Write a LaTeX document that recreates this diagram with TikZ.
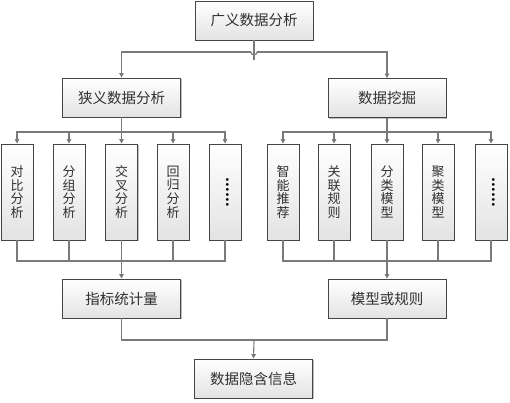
\documentclass[tikz,border=0pt]{standalone}
\usepackage{fontspec}
\newfontfamily\cjk{Noto Sans CJK SC}
\usetikzlibrary{arrows.meta,shadows}
\definecolor{linec}{HTML}{7A7A7A}
\definecolor{boxline}{HTML}{454545}
\definecolor{txt}{HTML}{303030}
\tikzset{
  box/.style={draw=boxline, line width=0.9bp, top color=white, bottom color=black!11,
    drop shadow={shadow xshift=1.2bp, shadow yshift=-1.2bp, opacity=0.25, fill=black},
    text=txt, inner sep=0pt, font=\cjk\fontsize{14.5bp}{15bp}\selectfont},
  wide/.style={box, minimum width=118bp, minimum height=39bp},
  tall/.style={box, minimum width=32bp, minimum height=96bp, align=center,
    font=\cjk\fontsize{13bp}{13.6bp}\selectfont},
  dots/.style={text=black, rotate=-90, font=\cjk\bfseries\fontsize{13bp}{13bp}\selectfont, inner sep=0pt},
  conn/.style={draw=linec, line width=1.1bp},
  arr/.style={conn, -{Triangle[length=4.5bp,width=4.5bp,fill=boxline]}}
}
\begin{document}
\begin{tikzpicture}[x=1bp,y=-1bp]
\useasboundingbox (0,0) rectangle (510,402);
% main boxes
\node[wide] (top) at (254,20.5) {广义数据分析};
\node[wide] (narrow) at (121.5,97.5) {狭义数据分析};
\node[wide] (mining) at (387,98) {数据挖掘};
\node[wide] (index) at (121.5,298.5) {指标统计量};
\node[wide] (model) at (387,298.5) {模型或规则};
\node[wide] (hidden) at (253.5,378.5) {数据隐含信息};
% tall boxes
\node[tall] (l1) at (17,192) {对\\比\\分\\析};
\node[tall] (l2) at (69,192) {分\\组\\分\\析};
\node[tall] (l3) at (121.5,192) {交\\叉\\分\\析};
\node[tall] (l4) at (173,192) {回\\归\\分\\析};
\node[tall] (l5) at (225,192) {};
\node[dots] (d1) at ([xshift=3bp]l5.center) {……};
\node[tall] (r1) at (283,192) {智\\能\\推\\荐};
\node[tall] (r2) at (334,192) {关\\联\\规\\则};
\node[tall] (r3) at (387,192) {分\\类\\模\\型};
\node[tall] (r4) at (438,192) {聚\\类\\模\\型};
\node[tall] (r5) at (491,192) {};
\node[dots] (d2) at ([xshift=3bp]r5.center) {……};
% junction coordinates
\coordinate (tv) at (254,60);
\coordinate (hl) at (251,52);
\coordinate (hr) at (257,52);
\coordinate (nb) at (121.5,132);
\coordinate (mb) at (387,132);
\coordinate (lbar) at (121.5,261);
\coordinate (rbar) at (387,261);
\coordinate (jb) at (254,340);
% top connectors with line hop
\draw[conn] (top.south) -- (tv);
\draw[arr] (hl) -| (narrow.north);
\draw[arr] (hr) -| (mining.north);
\draw[conn] (hl) arc[start angle=180, end angle=0, radius=3];
% left branch
\draw[conn] (narrow.south) -- (nb);
\draw[arr] (nb) -| (l1.north);
\draw[arr] (nb) -| (l2.north);
\draw[arr] (nb) -- (l3.north);
\draw[arr] (nb) -| (l4.north);
\draw[arr] (nb) -| (l5.north);
\draw[conn] (l1.south) |- (lbar) -| (l5.south);
\draw[conn] (l2.south) -- (l2.south |- lbar);
\draw[conn] (l4.south) -- (l4.south |- lbar);
\draw[arr] (l3.south) -- (index.north);
% right branch
\draw[conn] (mining.south) -- (mb);
\draw[arr] (mb) -| (r1.north);
\draw[arr] (mb) -| (r2.north);
\draw[arr] (mb) -- (r3.north);
\draw[arr] (mb) -| (r4.north);
\draw[arr] (mb) -| (r5.north);
\draw[conn] (r1.south) |- (rbar) -| (r5.south);
\draw[conn] (r2.south) -- (r2.south |- rbar);
\draw[conn] (r4.south) -- (r4.south |- rbar);
\draw[arr] (r3.south) -- (model.north);
% to hidden info
\draw[conn] (index.south) |- (jb);
\draw[conn] (model.south) |- (jb);
\draw[arr] (jb) -- (hidden.north);
\end{tikzpicture}
\end{document}
